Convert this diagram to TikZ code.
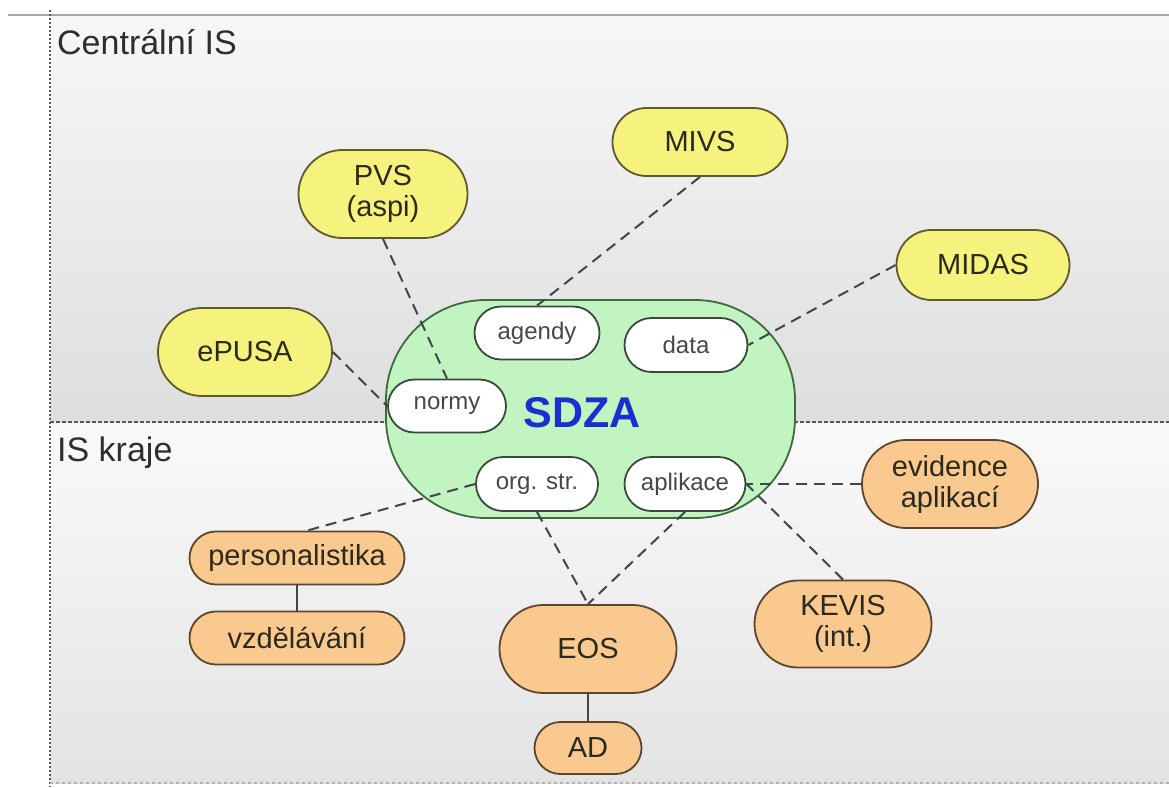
\documentclass[tikz,border=0pt]{standalone}
\usepackage{fontspec}
\setmainfont{Liberation Sans}
\usetikzlibrary{shapes.misc}
\definecolor{yfill}{HTML}{F6F27E}
\definecolor{ydraw}{HTML}{5E5A2E}
\definecolor{ofill}{HTML}{FAC98F}
\definecolor{odraw}{HTML}{5C4630}
\definecolor{gfill}{HTML}{C2F4C2}
\definecolor{gdraw}{HTML}{3F6A3F}
\definecolor{wdraw}{HTML}{3A4A3A}
\definecolor{txt}{HTML}{2A2A1E}
\definecolor{connc}{HTML}{404550}
\definecolor{sdzablue}{HTML}{1A2FD0}
\begin{document}
\begin{tikzpicture}[x=1pt,y=-1pt,
 box/.style={rounded rectangle, draw, line width=1.8pt, inner sep=0pt, align=center, font=\fontsize{29}{31}\selectfont, text=txt},
 ybox/.style={box, fill=yfill, draw=ydraw},
 obox/.style={box, fill=ofill, draw=odraw},
 wbox/.style={box, fill=white, draw=wdraw, font=\fontsize{24}{28}\selectfont, text=black!72},
 dconn/.style={draw=connc, line width=2pt, dash pattern=on 11pt off 7pt},
 sconn/.style={draw=connc, line width=2pt},
 region/.style={font=\fontsize{34}{38}\selectfont, text=black!82, anchor=west, inner sep=0pt}]
\useasboundingbox (0,0) rectangle (1169,787);
\fill[white] (0,0) rectangle (1169,787);
% backgrounds
\shade[top color=black!3, bottom color=black!13] (50,15) rectangle (1169,422);
\shade[top color=black!2, bottom color=black!11] (50,422) rectangle (1169,783);
\draw[black!35, line width=1.5pt] (8,15) -- (1169,15);
\draw[black!65, line width=2.2pt, dash pattern=on 2pt off 2pt] (50,10) -- (50,787);
\draw[black!65, line width=2.2pt, dash pattern=on 4pt off 2pt] (50,422) -- (1169,422);
\draw[black!30, line width=1.5pt, dash pattern=on 3pt off 3pt] (50,783) -- (1169,783);
% region labels
\node[region] (lcentral) at (57,42) {Centrální IS};
\node[region] (lkraje) at (57,453) {IS kraje};
% SDZA
\node[draw=gdraw, fill=gfill, line width=1.8pt, rounded corners=100pt, minimum width=409pt, minimum height=218pt, inner sep=0pt] (sdza) at (590.5,409) {};
\node[font=\fontsize{43}{46}\selectfont\bfseries, text=sdzablue] (sdzat) at (582,413) {SDZA};
\node[wbox, minimum width=125pt, minimum height=53pt] (agendy) at (537,333) {agendy};
\node[wbox, minimum width=123pt, minimum height=54pt] (data) at (686,345) {data};
\node[wbox, minimum width=118pt, minimum height=53pt] (normy) at (447,406) {normy};
\node[wbox, minimum width=122pt, minimum height=54pt] (org) at (537,484) {org. str.};
\node[wbox, minimum width=121pt, minimum height=54pt] (apl) at (685,484) {aplikace};
% central IS
\node[ybox, minimum width=169pt, minimum height=88pt] (pvs) at (383,194) {PVS\\(aspi)};
\node[ybox, minimum width=175pt, minimum height=68pt] (mivs) at (700,142) {MIVS};
\node[ybox, minimum width=173pt, minimum height=70pt] (midas) at (983,265) {MIDAS};
\node[ybox, minimum width=174pt, minimum height=88pt] (epusa) at (245,352) {ePUSA};
% IS kraje
\node[obox, minimum width=176pt, minimum height=88pt] (evid) at (950,484) {evidence\\aplikací};
\node[obox, minimum width=215pt, minimum height=53pt] (pers) at (297,558) {personalistika};
\node[obox, minimum width=215pt, minimum height=53pt] (vzd) at (297,638) {vzdělávání};
\node[obox, minimum width=177pt, minimum height=88pt] (eos) at (588,649) {EOS};
\node[obox, minimum width=107pt, minimum height=52pt] (ad) at (588,748) {AD};
\node[obox, minimum width=177pt, minimum height=87pt] (kevis) at (843,624) {KEVIS\\(int.)};
% connectors
\draw[dconn] (pvs.south) -- (normy.north);
\draw[dconn] (epusa.east) -- (normy.west);
\draw[dconn] (mivs.south) -- (agendy.north);
\draw[dconn] (midas.west) -- (data.east);
\draw[dconn] (org.west) -- ([xshift=10pt]pers.north);
\draw[dconn] (org.south) -- (eos.north);
\draw[dconn] (apl.south) -- (eos.north);
\draw[dconn] (evid.west) -- (apl.east);
\draw[dconn] (kevis.north) -- (apl.east);
\draw[sconn] (pers.south) -- (vzd.north);
\draw[sconn] (eos.south) -- (ad.north);
\end{tikzpicture}
\end{document}
